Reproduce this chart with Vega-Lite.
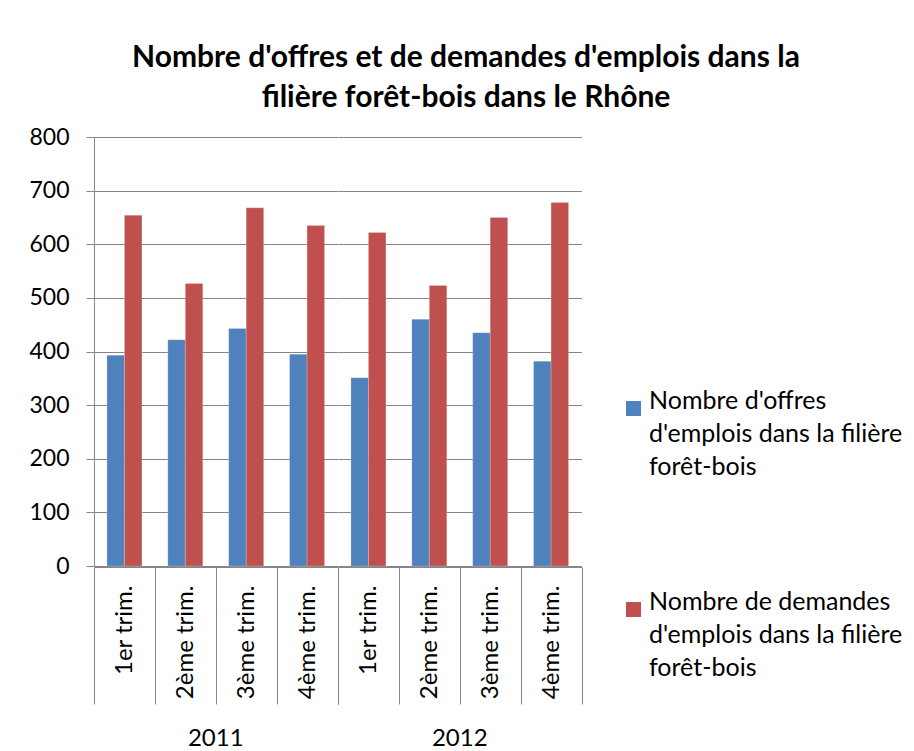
{
  "$schema": "https://vega.github.io/schema/vega-lite/v6.json",
  "padding": {"left": 28, "top": 43, "right": 5, "bottom": 0},
  "background": "white",
  "title": {
    "text": ["Nombre d'offres et de demandes d'emplois dans la", "filière forêt-bois dans  le Rhône"],
    "font": "Lato",
    "fontSize": 30,
    "fontWeight": "bold",
    "lineHeight": 40,
    "anchor": "middle",
    "color": "black",
    "offset": 13
  },
  "data": {
    "values": [
      {"year": "2011", "quarter": "1er trim.", "series": "Nombre d'offres d'emplois dans la filière forêt-bois", "value": 393},
      {"year": "2011", "quarter": "1er trim.", "series": "Nombre de demandes d'emplois dans la filière forêt-bois", "value": 654},
      {"year": "2011", "quarter": "2ème trim.", "series": "Nombre d'offres d'emplois dans la filière forêt-bois", "value": 422},
      {"year": "2011", "quarter": "2ème trim.", "series": "Nombre de demandes d'emplois dans la filière forêt-bois", "value": 527},
      {"year": "2011", "quarter": "3ème trim.", "series": "Nombre d'offres d'emplois dans la filière forêt-bois", "value": 443},
      {"year": "2011", "quarter": "3ème trim.", "series": "Nombre de demandes d'emplois dans la filière forêt-bois", "value": 668},
      {"year": "2011", "quarter": "4ème trim.", "series": "Nombre d'offres d'emplois dans la filière forêt-bois", "value": 395},
      {"year": "2011", "quarter": "4ème trim.", "series": "Nombre de demandes d'emplois dans la filière forêt-bois", "value": 635},
      {"year": "2012", "quarter": "1er trim.", "series": "Nombre d'offres d'emplois dans la filière forêt-bois", "value": 351},
      {"year": "2012", "quarter": "1er trim.", "series": "Nombre de demandes d'emplois dans la filière forêt-bois", "value": 622},
      {"year": "2012", "quarter": "2ème trim.", "series": "Nombre d'offres d'emplois dans la filière forêt-bois", "value": 460},
      {"year": "2012", "quarter": "2ème trim.", "series": "Nombre de demandes d'emplois dans la filière forêt-bois", "value": 523},
      {"year": "2012", "quarter": "3ème trim.", "series": "Nombre d'offres d'emplois dans la filière forêt-bois", "value": 435},
      {"year": "2012", "quarter": "3ème trim.", "series": "Nombre de demandes d'emplois dans la filière forêt-bois", "value": 650},
      {"year": "2012", "quarter": "4ème trim.", "series": "Nombre d'offres d'emplois dans la filière forêt-bois", "value": 382},
      {"year": "2012", "quarter": "4ème trim.", "series": "Nombre de demandes d'emplois dans la filière forêt-bois", "value": 678}
    ]
  },
  "facet": {
    "column": {
      "field": "year",
      "type": "ordinal",
      "header": {
        "title": null,
        "labelOrient": "bottom",
        "labelFont": "Lato",
        "labelFontSize": 24,
        "labelColor": "black",
        "labelPadding": 22
      }
    }
  },
  "spacing": 0,
  "spec": {
    "width": 243.5,
    "height": 429,
    "mark": {"type": "bar", "stroke": "white", "strokeOpacity": 0.4, "strokeWidth": 0.5},
    "encoding": {
      "x": {
        "field": "quarter",
        "type": "nominal",
        "sort": ["1er trim.", "2ème trim.", "3ème trim.", "4ème trim."],
        "scale": {"paddingInner": 0, "paddingOuter": 0},
        "axis": {
          "title": null,
          "labelAngle": -90,
          "labelFont": "Lato",
          "labelFontSize": 24,
          "labelColor": "black",
          "tickBand": "extent",
          "tickSize": 137,
          "tickColor": "#868686",
          "domainColor": "#868686",
          "labelPadding": -119
        }
      },
      "xOffset": {
        "field": "series",
        "type": "nominal",
        "scale": {"paddingOuter": 0.74, "paddingInner": 0}
      },
      "y": {
        "field": "value",
        "type": "quantitative",
        "scale": {"domain": [0, 800], "nice": false},
        "axis": {
          "title": null,
          "values": [0, 100, 200, 300, 400, 500, 600, 700, 800],
          "labelFont": "Lato",
          "labelFontSize": 23,
          "labelColor": "black",
          "tickSize": 8,
          "tickColor": "#868686",
          "domainColor": "#868686",
          "gridColor": "#868686",
          "labelPadding": 17
        }
      },
      "color": {
        "field": "series",
        "type": "nominal",
        "scale": {"range": ["#4F81BD", "#C0504D"]},
        "legend": {
          "title": null,
          "orient": "none",
          "legendX": 527,
          "legendY": 259,
          "symbolType": "square",
          "symbolSize": 225,
          "symbolStrokeWidth": 0,
          "labelFont": "Lato",
          "labelFontSize": 25,
          "labelColor": "black",
          "labelLimit": 400,
          "labelOffset": 3,
          "labelBaseline": "alphabetic",
          "rowPadding": 109,
          "labelExpr": "indexof(datum.label, 'offres') >= 0 ? [\"Nombre d'offres\", \"d'emplois dans la filière\", 'forêt-bois'] : ['Nombre de demandes', \"d'emplois dans la filière\", 'forêt-bois']"
        }
      }
    }
  },
  "config": {
    "view": {"stroke": null},
    "axis": {"gridWidth": 1, "domainWidth": 1, "tickWidth": 1},
    "style": {"guide-label": {"lineHeight": 33}}
  }
}
